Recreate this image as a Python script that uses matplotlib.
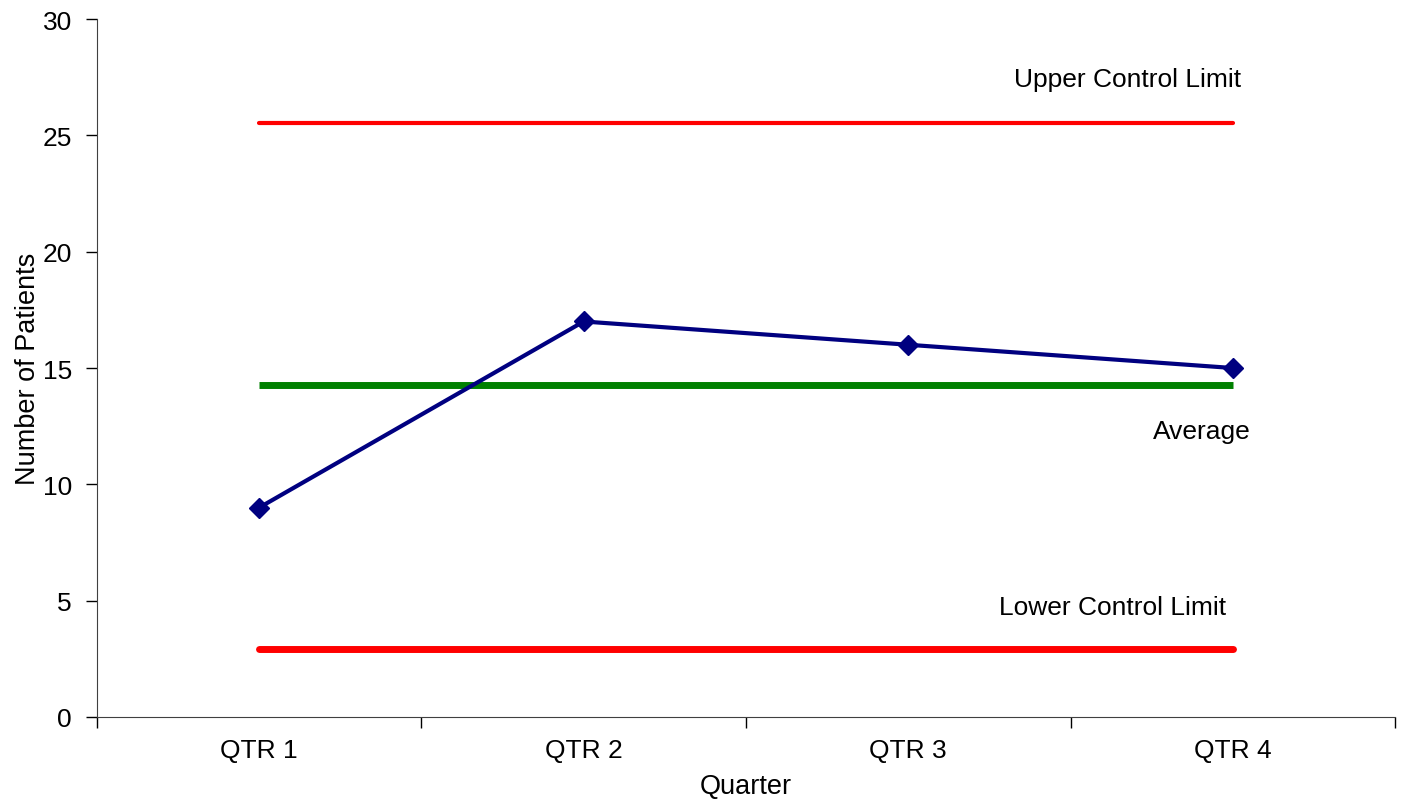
import matplotlib.pyplot as plt

# Data
quarters = ['QTR 1', 'QTR 2', 'QTR 3', 'QTR 4']
patients = [9, 17, 16, 15]
average = 14.25
ucl = 25.55
lcl = 2.9

plt.rcParams['font.family'] = ['Liberation Sans', 'DejaVu Sans']

fig = plt.figure(figsize=(14.05, 8.03), dpi=100)
ax = fig.add_axes([0.069, 0.1059, 0.9239, 0.8691])

x = list(range(len(quarters)))

ax.plot(x, [ucl] * len(x), color='#FF0000', linewidth=3, solid_capstyle='round')
ax.plot(x, [lcl] * len(x), color='#FF0000', linewidth=5, solid_capstyle='round')
ax.plot(x, [average] * len(x), color='#008000', linewidth=5, solid_capstyle='butt')
ax.plot(x, patients, color='#000080', linewidth=3, marker='D', markersize=10,
        markeredgecolor='#000080', markerfacecolor='#000080')

ax.text(2.677, 27.42, 'Upper Control Limit', fontsize=19, ha='center', va='center')
ax.text(2.905, 12.29, 'Average', fontsize=19, ha='center', va='center')
ax.text(2.631, 4.73, 'Lower Control Limit', fontsize=19, ha='center', va='center')

ax.set_xlim(-0.5, 3.5)
ax.set_ylim(0, 30)
ax.set_yticks(range(0, 31, 5))
ax.set_xticks(x)
ax.set_xticklabels(quarters)
ax.set_xticks([-0.5, 0.5, 1.5, 2.5, 3.5], minor=True)
ax.tick_params(axis='x', which='major', length=0, labelsize=19, pad=15)
ax.tick_params(axis='x', which='minor', length=8, width=1)
ax.tick_params(axis='y', length=8, width=1, labelsize=19, pad=10)

ax.spines['top'].set_visible(False)
ax.spines['right'].set_visible(False)
ax.spines['left'].set_color('#404040')
ax.spines['bottom'].set_color('#404040')

ax.set_xlabel('Quarter', fontsize=19.5, labelpad=8)
ax.set_ylabel('Number of Patients', fontsize=19.5, labelpad=1)

plt.savefig('out.png', dpi=100, facecolor='white')
